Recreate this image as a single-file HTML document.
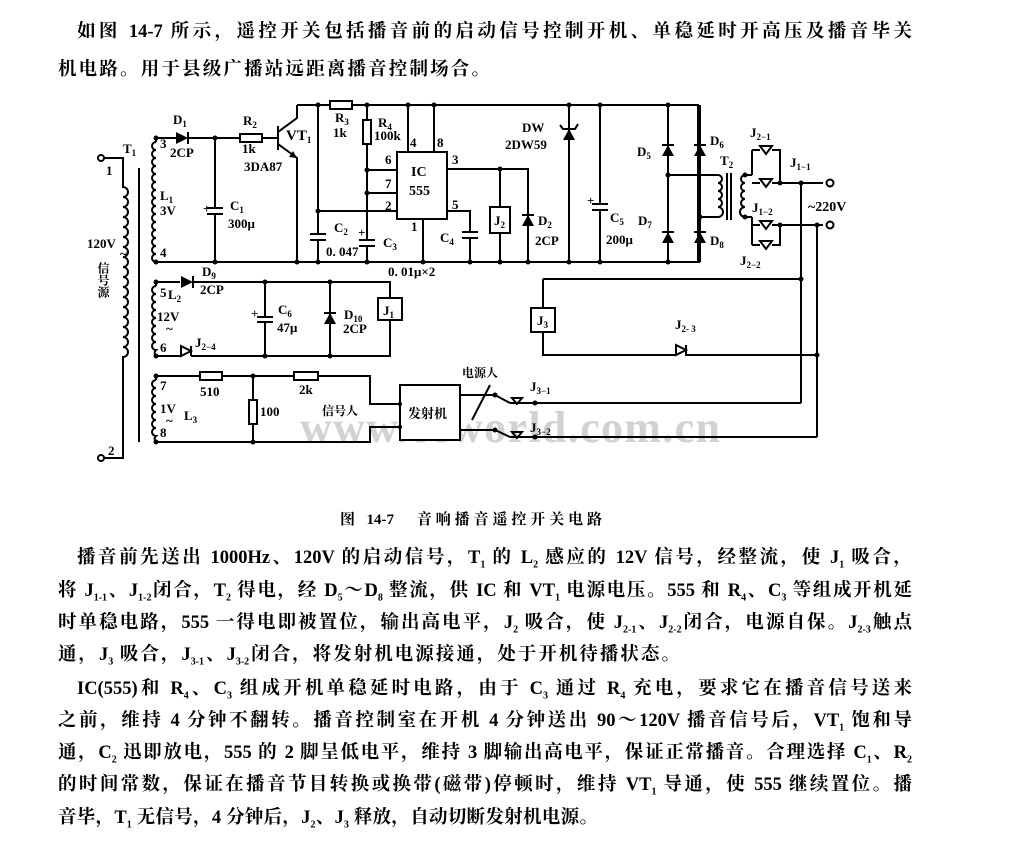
<!DOCTYPE html>
<html><head><meta charset="utf-8"><style>
html,body{margin:0;padding:0;background:#fff;width:1024px;height:850px;overflow:hidden}
.t{position:absolute;font-family:"Liberation Serif","Noto Serif CJK SC",serif;font-size:18.5px;color:#000;font-weight:bold;white-space:nowrap;text-align:justify;text-align-last:justify;line-height:24px}
sub{line-height:0}
svg{position:absolute;left:0;top:0}
svg text{font-family:"Liberation Serif","Noto Serif CJK SC",serif;fill:#000}
</style></head><body>
<div class="t" style="left:77px;top:20px;width:835px">如图 14-7 所示，遥控开关包括播音前的启动信号控制开机、单稳延时开高压及播音毕关</div>
<div class="t" style="left:58px;top:58px;width:432px">机电路。用于县级广播站远距离播音控制场合。</div>
<div class="t" style="left:340px;top:508px;width:262px;font-size:15px;font-weight:bold">图 14-7　音响播音遥控开关电路</div>
<div class="t" style="left:77px;top:546px;width:835px">播音前先送出 1000Hz、120V 的启动信号，T<sub style="font-size:10px">1</sub> 的 L<sub style="font-size:10px">2</sub> 感应的 12V 信号，经整流，使 J<sub style="font-size:10px">1</sub> 吸合，</div>
<div class="t" style="left:58px;top:579px;width:854px">将 J<sub style="font-size:10px">1-1</sub>、J<sub style="font-size:10px">1-2</sub>闭合，T<sub style="font-size:10px">2</sub> 得电，经 D<sub style="font-size:10px">5</sub>～D<sub style="font-size:10px">8</sub> 整流，供 IC 和 VT<sub style="font-size:10px">1</sub> 电源电压。555 和 R<sub style="font-size:10px">4</sub>、C<sub style="font-size:10px">3</sub> 等组成开机延</div>
<div class="t" style="left:58px;top:611px;width:854px">时单稳电路，555 一得电即被置位，输出高电平，J<sub style="font-size:10px">2</sub> 吸合，使 J<sub style="font-size:10px">2-1</sub>、J<sub style="font-size:10px">2-2</sub>闭合，电源自保。J<sub style="font-size:10px">2-3</sub>触点</div>
<div class="t" style="left:58px;top:643px;width:622px">通，J<sub style="font-size:10px">3</sub> 吸合，J<sub style="font-size:10px">3-1</sub>、J<sub style="font-size:10px">3-2</sub>闭合，将发射机电源接通，处于开机待播状态。</div>
<div class="t" style="left:77px;top:677px;width:835px">IC(555)和 R<sub style="font-size:10px">4</sub>、C<sub style="font-size:10px">3</sub> 组成开机单稳延时电路，由于 C<sub style="font-size:10px">3</sub> 通过 R<sub style="font-size:10px">4</sub> 充电，要求它在播音信号送来</div>
<div class="t" style="left:58px;top:709px;width:854px">之前，维持 4 分钟不翻转。播音控制室在开机 4 分钟送出 90～120V 播音信号后，VT<sub style="font-size:10px">1</sub> 饱和导</div>
<div class="t" style="left:58px;top:741px;width:854px">通，C<sub style="font-size:10px">2</sub> 迅即放电，555 的 2 脚呈低电平，维持 3 脚输出高电平，保证正常播音。合理选择 C<sub style="font-size:10px">1</sub>、R<sub style="font-size:10px">2</sub></div>
<div class="t" style="left:58px;top:773px;width:854px">的时间常数，保证在播音节目转换或换带(磁带)停顿时，维持 VT<sub style="font-size:10px">1</sub> 导通，使 555 继续置位。播</div>
<div class="t" style="left:58px;top:806px;width:540px">音毕，T<sub style="font-size:10px">1</sub> 无信号，4 分钟后，J<sub style="font-size:10px">2</sub>、J<sub style="font-size:10px">3</sub> 释放，自动切断发射机电源。</div>

<svg width="1024" height="500" viewBox="0 0 1024 500">
<text x="300" y="442" font-size="44" font-weight="bold" style="fill:#d2d2d2" textLength="420">www.eeworld.com.cn</text>
<g stroke="#000" stroke-width="2" fill="none">
<circle cx="101" cy="158" r="3" fill="#fff"/><circle cx="101" cy="458" r="3" fill="#fff"/>
<path d="M104,158 H123 V187 a5,5 0 0 1 0,10 a5,5 0 0 1 0,10 a5,5 0 0 1 0,10 a5,5 0 0 1 0,10 a5,5 0 0 1 0,10 a5,5 0 0 1 0,10 a5,5 0 0 1 0,10 a5,5 0 0 1 0,10 a5,5 0 0 1 0,10 a5,5 0 0 1 0,10 a5,5 0 0 1 0,10 a5,5 0 0 1 0,10 a5,5 0 0 1 0,10 a5,5 0 0 1 0,10 a5,5 0 0 1 0,10 a5,5 0 0 1 0,10 a5,5 0 0 1 0,10 V458 H104"/>
<path d="M139,168 V442"/>
<path d="M156,138 H176 M188,138 H240 M262,138 H278"/>
<path d="M156,142 a4,4 0 0 0 0,8 a4,4 0 0 0 0,8 a4,4 0 0 0 0,8 a4,4 0 0 0 0,8 a4,4 0 0 0 0,8 a4,4 0 0 0 0,8 a4,4 0 0 0 0,8 a4,4 0 0 0 0,8 a4,4 0 0 0 0,8 a4,4 0 0 0 0,8 a4,4 0 0 0 0,8 a4,4 0 0 0 0,8 a4,4 0 0 0 0,8 a4,4 0 0 0 0,8 a4,4 0 0 0 0,8 M156,138 V142"/>
<path d="M156,262 H700"/>
<path d="M215,138 V208 M207,208 H223 M207,214 H223 M215,214 V262"/>
<rect x="240" y="134" width="22" height="8" fill="#fff"/>
<path d="M278,126 V150 M278,132 L297,118 V105 M278,144 L297,158 V262"/>
<path d="M297,105 H330 M352,105 H698 V262"/>
<rect x="330" y="101" width="22" height="8" fill="#fff"/>
<path d="M318,105 V234 M310,234 H326 M310,240 H326 M318,240 V262 M318,211 H397"/>
<rect x="363" y="120" width="8" height="24" fill="#fff"/>
<path d="M367,105 V120 M367,144 V240 M359,240 H375 M359,246 H375 M367,246 V262 M367,170 H397 M367,193 H397"/>
<rect x="397" y="152" width="50" height="67" fill="#fff"/>
<path d="M408,105 V152 M434,105 V152 M423,219 V262 M447,169 H528 V262 M447,211 H470 V232 M462,232 H478 M462,238 H478 M470,238 V262 M500,169 V207 M500,233 V262"/>
<rect x="490" y="207" width="20" height="26" fill="#fff"/>
<path d="M569,105 V262 M600,105 V204 M592,204 H608 M592,210 H608 M600,210 V262"/>
<path d="M668,105 V262 M700,105 V262 M668,175 H718 M700,217 H718 M668,262 H700"/>
<path d="M718,175 a4,4 0 0 1 0,8 a4,4 0 0 1 0,8 a4,4 0 0 1 0,8 a4,4 0 0 1 0,8 a4,4 0 0 1 0,10"/>
<path d="M727,173 V220 M731,173 V220"/>
<path d="M745,175 a4,4 0 0 0 0,8 a4,4 0 0 0 0,8 a4,4 0 0 0 0,8 a4,4 0 0 0 0,8 a4,4 0 0 0 0,10"/>
<path d="M745,175 H752 M752,150 V175 M752,150 H760 M772,150 H780 V183 M752,183 H760 M772,183 H823"/>
<path d="M745,217 H752 M752,217 V245 M752,225 H760 M772,225 H823 M752,245 H760 M772,245 H780 V225"/>
<path d="M760,146 L772,146 L766,154 Z M760,179 L772,179 L766,187 Z M760,221 L772,221 L766,229 Z M760,241 L772,241 L766,249 Z"/>
<circle cx="830" cy="183" r="3.5" fill="#fff"/><circle cx="830" cy="225" r="3.5" fill="#fff"/>
<path d="M801,183 V403 M817,225 V437"/>
<path d="M543,279 H801 M543,279 V308 M543,332 V355 H676 M676,345 L686,350 L676,355 Z M686,345 V355 H817"/>
<rect x="531" y="308" width="24" height="24" fill="#fff"/>
<path d="M156,282 H180 M194,282 H390 V298 M390,320 V356 H191 M191,346 V356 M181,346 L191,351 L181,356 Z M181,346 V356 H156"/>
<path d="M156,286 a4,4 0 0 0 0,8 a4,4 0 0 0 0,8 a4,4 0 0 0 0,8 a4,4 0 0 0 0,8 a4,4 0 0 0 0,8 a4,4 0 0 0 0,8 a4,4 0 0 0 0,8 a4,4 0 0 0 0,8 a4,4 0 0 0 0,6 M156,282 V286"/>
<path d="M265,282 V317 M257,317 H273 M257,322 H273 M265,322 V356 M330,282 V356"/>
<rect x="378" y="298" width="24" height="22" fill="#fff"/>
<path d="M156,376 H200 M222,376 H294 M318,376 H370 V404 H400 M156,442 H370 V427 H400 M253,376 V400 M253,424 V442"/>
<path d="M156,380 a4,4 0 0 0 0,8 a4,4 0 0 0 0,8 a4,4 0 0 0 0,8 a4,4 0 0 0 0,8 a4,4 0 0 0 0,8 a4,4 0 0 0 0,8 a4,4 0 0 0 0,8 a4,4 0 0 0 0,6 M156,376 V380"/>
<rect x="200" y="372" width="22" height="8" fill="#fff"/>
<rect x="294" y="372" width="24" height="8" fill="#fff"/>
<rect x="249" y="400" width="8" height="24" fill="#fff"/>
<rect x="400" y="385" width="60" height="55" fill="#fff"/>
<path d="M460,395 H495 M510,403 H801 M460,430 H495 M510,437 H817 M495,395 L510,403 M495,430 L510,437 M472,420 L490,385"/>
<path d="M512,398 L522,398 L517,404 Z M512,432 L522,432 L517,438 Z"/>
</g>
<g fill="#000">
<polygon points="176,132 176,144 188,138"/><path d="M188,132 V144" stroke="#000" stroke-width="2"/>
<polygon points="181,276 181,288 193,282"/><path d="M193,276 V288" stroke="#000" stroke-width="2"/>
<polygon points="662,156 674,156 668,145"/><polygon points="694,156 706,156 700,145"/>
<polygon points="662,243 674,243 668,232"/><polygon points="694,243 706,243 700,232"/>
<polygon points="522,226 534,226 528,215"/><polygon points="324,324 336,324 330,313"/>
<polygon points="563,140 575,140 569,129"/>
<path d="M662,145 H674 M694,145 H706 M662,232 H674 M694,232 H706 M522,215 H534 M324,313 H336 M560,125 L563,129 H575 L578,124" stroke="#000" stroke-width="2" fill="none"/>
<polygon points="297,158 289,157 293,151"/>
<g>
<circle cx="156" cy="138" r="2.5"/><circle cx="215" cy="138" r="2.5"/><circle cx="156" cy="262" r="2.5"/><circle cx="215" cy="262" r="2.5"/><circle cx="297" cy="262" r="2.5"/><circle cx="318" cy="262" r="2.5"/><circle cx="367" cy="262" r="2.5"/><circle cx="423" cy="262" r="2.5"/><circle cx="470" cy="262" r="2.5"/><circle cx="500" cy="262" r="2.5"/><circle cx="528" cy="262" r="2.5"/><circle cx="569" cy="262" r="2.5"/><circle cx="600" cy="262" r="2.5"/><circle cx="668" cy="262" r="2.5"/>
<circle cx="318" cy="105" r="2.5"/><circle cx="367" cy="105" r="2.5"/><circle cx="408" cy="105" r="2.5"/><circle cx="434" cy="105" r="2.5"/><circle cx="569" cy="105" r="2.5"/><circle cx="600" cy="105" r="2.5"/><circle cx="668" cy="105" r="2.5"/>
<circle cx="318" cy="211" r="2.5"/><circle cx="367" cy="170" r="2.5"/><circle cx="367" cy="193" r="2.5"/><circle cx="500" cy="169" r="2.5"/>
<circle cx="668" cy="175" r="2.5"/><circle cx="700" cy="217" r="2.5"/><circle cx="745" cy="175" r="2.5"/><circle cx="745" cy="217" r="2.5"/><circle cx="780" cy="183" r="2.5"/><circle cx="801" cy="183" r="2.5"/><circle cx="780" cy="225" r="2.5"/><circle cx="817" cy="225" r="2.5"/><circle cx="801" cy="279" r="2.5"/><circle cx="817" cy="355" r="2.5"/>
<circle cx="156" cy="282" r="2.5"/><circle cx="265" cy="282" r="2.5"/><circle cx="330" cy="282" r="2.5"/><circle cx="156" cy="356" r="2.5"/><circle cx="265" cy="356" r="2.5"/><circle cx="330" cy="356" r="2.5"/>
<circle cx="156" cy="376" r="2.5"/><circle cx="253" cy="376" r="2.5"/><circle cx="156" cy="442" r="2.5"/><circle cx="253" cy="442" r="2.5"/><circle cx="400" cy="404" r="2"/><circle cx="400" cy="427" r="2"/>
<circle cx="495" cy="395" r="2.5"/><circle cx="495" cy="430" r="2.5"/><circle cx="535" cy="403" r="2.5"/><circle cx="535" cy="437" r="2.5"/>
</g>
</g>
<g font-size="13" font-weight="bold">
<text x="173" y="124">D<tspan font-size="9" dy="3">1</tspan></text>
<text x="170" y="157">2CP</text>
<text x="243" y="125">R<tspan font-size="9" dy="3">2</tspan></text>
<text x="242" y="153">1k</text>
<text x="244" y="171">3DA87</text>
<text x="286" y="140" font-size="15">VT<tspan font-size="9" dy="3">1</tspan></text>
<text x="335" y="122">R<tspan font-size="9" dy="3">3</tspan></text>
<text x="333" y="137">1k</text>
<text x="378" y="127">R<tspan font-size="9" dy="3">4</tspan></text>
<text x="374" y="140">100k</text>
<text x="410" y="147">4</text><text x="437" y="147">8</text>
<text x="385" y="164">6</text><text x="385" y="188">7</text><text x="385" y="210">2</text>
<text x="452" y="164">3</text><text x="452" y="209">5</text><text x="411" y="231">1</text>
<text x="411" y="176" font-size="14">IC</text><text x="409" y="195" font-size="14">555</text>
<text x="334" y="232">C<tspan font-size="9" dy="3">2</tspan></text>
<text x="326" y="256">0. 047</text>
<text x="383" y="247">C<tspan font-size="9" dy="3">3</tspan></text>
<text x="358" y="237">+</text>
<text x="440" y="242">C<tspan font-size="9" dy="3">4</tspan></text>
<text x="388" y="276">0. 01μ×2</text>
<text x="494" y="225">J<tspan font-size="9" dy="3">2</tspan></text>
<text x="538" y="225">D<tspan font-size="9" dy="3">2</tspan></text>
<text x="535" y="245">2CP</text>
<text x="522" y="132">DW</text>
<text x="505" y="149">2DW59</text>
<text x="587" y="205">+</text>
<text x="610" y="222">C<tspan font-size="9" dy="3">5</tspan></text>
<text x="606" y="244">200μ</text>
<text x="637" y="156">D<tspan font-size="9" dy="3">5</tspan></text>
<text x="710" y="145">D<tspan font-size="9" dy="3">6</tspan></text>
<text x="638" y="225">D<tspan font-size="9" dy="3">7</tspan></text>
<text x="710" y="245">D<tspan font-size="9" dy="3">8</tspan></text>
<text x="720" y="165">T<tspan font-size="9" dy="3">2</tspan></text>
<text x="750" y="137">J<tspan font-size="9" dy="3">2−1</tspan></text>
<text x="790" y="167">J<tspan font-size="9" dy="3">1−1</tspan></text>
<text x="752" y="212">J<tspan font-size="9" dy="3">1−2</tspan></text>
<text x="740" y="265">J<tspan font-size="9" dy="3">2−2</tspan></text>
<text x="808" y="211" font-size="14">~220V</text>
<text x="537" y="325">J<tspan font-size="9" dy="3">3</tspan></text>
<text x="675" y="329">J<tspan font-size="9" dy="3">2- 3</tspan></text>
<text x="123" y="153">T<tspan font-size="9" dy="3">1</tspan></text>
<text x="106" y="175">1</text><text x="108" y="455">2</text>
<text x="160" y="148">3</text><text x="160" y="257">4</text>
<text x="160" y="200">L<tspan font-size="9" dy="3">1</tspan></text>
<text x="160" y="215">3V</text>
<text x="230" y="210">C<tspan font-size="9" dy="3">1</tspan></text>
<text x="228" y="228">300μ</text>
<text x="203" y="213">+</text>
<text x="87" y="248">120V</text><text x="120" y="258">~</text>
<text x="103" y="262" font-size="12" writing-mode="tb">信号源</text>
<text x="202" y="276">D<tspan font-size="9" dy="3">9</tspan></text>
<text x="200" y="294">2CP</text>
<text x="160" y="297">5</text><text x="168" y="299">L<tspan font-size="9" dy="3">2</tspan></text>
<text x="157" y="321">12V</text><text x="166" y="333">~</text>
<text x="160" y="352">6</text>
<text x="195" y="347">J<tspan font-size="9" dy="3">2−4</tspan></text>
<text x="251" y="318">+</text>
<text x="278" y="314">C<tspan font-size="9" dy="3">6</tspan></text>
<text x="277" y="332">47μ</text>
<text x="344" y="319">D<tspan font-size="9" dy="3">10</tspan></text>
<text x="343" y="333">2CP</text>
<text x="383" y="315">J<tspan font-size="9" dy="3">1</tspan></text>
<text x="160" y="390">7</text><text x="160" y="437">8</text>
<text x="160" y="413">1V</text><text x="166" y="425">~</text><text x="184" y="420">L<tspan font-size="9" dy="3">3</tspan></text>
<text x="200" y="396">510</text>
<text x="260" y="416">100</text>
<text x="299" y="394">2k</text>
<text x="322" y="415" font-size="12">信号人</text>
<text x="408" y="418" font-size="13">发射机</text>
<text x="462" y="377" font-size="12">电源人</text>
<text x="530" y="391">J<tspan font-size="9" dy="3">3−1</tspan></text>
<text x="530" y="432">J<tspan font-size="9" dy="3">3−2</tspan></text>
</g>
</svg>
</body></html>
